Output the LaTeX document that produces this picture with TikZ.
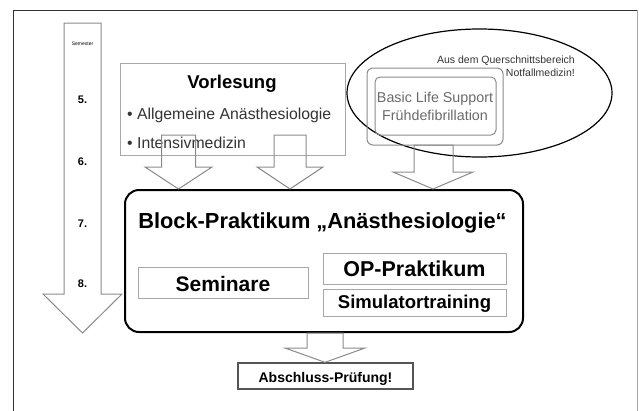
\documentclass[tikz,border=0pt]{standalone}
\usepackage{fontspec}
\setmainfont{Liberation Sans}
\usetikzlibrary{shapes.geometric}
\definecolor{lgray}{HTML}{A8A8A8}
\definecolor{mgray}{HTML}{8A8A8A}
\definecolor{dgray}{HTML}{555555}
\definecolor{tgray}{HTML}{6A6A6A}
\begin{document}
\begin{tikzpicture}[x=1pt,y=-1pt,
  rbox/.style={draw=#1, line width=1pt, inner sep=0pt, minimum width=0pt, minimum height=0pt},
  lbl/.style={anchor=base, inner sep=0pt},
  barrow/.style={draw=mgray, line width=1pt, line join=miter}]
\useasboundingbox (0,0) rectangle (639,410);
% frame
\draw[draw=black!80, line width=0.9pt] (13,412) -- (13,10) -- (637,10);
\draw[draw=black!35, line width=0.9pt] (637,10) -- (637,412);

% semester arrow
\draw[barrow] (64,23) -- (101,23) -- (101,294) -- (122,294) -- (82.5,333) -- (43,294) -- (64,294) -- cycle;
\node[lbl, font=\fontsize{5}{6}\selectfont] (sem) at (82.5,45) {Semester};
\node[lbl, font=\bfseries\fontsize{11}{13}\selectfont] (s5) at (82.5,103) {5.};
\node[lbl, font=\bfseries\fontsize{11}{13}\selectfont] (s6) at (82.5,165) {6.};
\node[lbl, font=\bfseries\fontsize{11}{13}\selectfont] (s7) at (82.5,227) {7.};
\node[lbl, font=\bfseries\fontsize{11}{13}\selectfont] (s8) at (82.5,287) {8.};

% Vorlesung
\node[rbox=lgray, minimum width=225pt, minimum height=92pt] (vbox) at (232.5,109) {};
\node[lbl, font=\bfseries\fontsize{18.5}{22}\selectfont] (vt) at (232,88) {Vorlesung};
\node[lbl, anchor=base west, font=\fontsize{15.8}{19}\selectfont, text=black!80] (v1) at (127,119) {\textbullet\ Allgemeine Anästhesiologie};
\node[lbl, anchor=base west, font=\fontsize{15.8}{19}\selectfont, text=black!80] (v2) at (127,148) {\textbullet\ Intensivmedizin};

% Notfallmedizin
\node[draw=black, line width=1.2pt, ellipse, inner sep=0pt, minimum width=265pt, minimum height=128pt] (ell) at (479.5,93) {};
\node[lbl, anchor=base east, font=\fontsize{10.5}{12}\selectfont, text=black!80] (q1) at (575,63) {Aus dem Querschnittsbereich};
\node[lbl, anchor=base east, font=\fontsize{10.5}{12}\selectfont, text=black!80] (q2) at (575,76) {Notfallmedizin!};
\node[rbox=mgray, rounded corners=6pt, minimum width=136pt, minimum height=77pt] (blso) at (435,106.5) {};
\node[rbox=mgray, rounded corners=5pt, minimum width=121pt, minimum height=58pt] (blsi) at (435.5,106) {};
\node[lbl, font=\fontsize{14.3}{17}\selectfont, text=tgray] (b1) at (435,102) {Basic Life Support};
\node[lbl, font=\fontsize{14.3}{17}\selectfont, text=tgray] (b2) at (435,120) {Frühdefibrillation};

% Block-Praktikum
\node[draw=black, line width=2pt, rounded corners=14pt, inner sep=0pt, minimum width=398pt, minimum height=142pt] (block) at (324,261) {};
\node[lbl, font=\bfseries\fontsize{21.8}{26}\selectfont] (bt) at (322.5,228) {Block-Praktikum „Anästhesiologie“};
\node[rbox=lgray, minimum width=170pt, minimum height=31pt] (sembox) at (223,282.5) {};
\node[lbl, font=\bfseries\fontsize{21}{25}\selectfont] (semt) at (223,291) {Seminare};
\node[rbox=lgray, minimum width=183pt, minimum height=31pt] (opbox) at (414.5,268.5) {};
\node[lbl, font=\bfseries\fontsize{21.5}{25}\selectfont] (opt) at (414.5,276) {OP-Praktikum};
\node[rbox=lgray, minimum width=183pt, minimum height=27pt] (simbox) at (414.5,302.5) {};
\node[lbl, font=\bfseries\fontsize{18.5}{22}\selectfont] (simt) at (414.5,308) {Simulatortraining};

% Abschluss
\node[rbox=dgray, line width=1.4pt, minimum width=175pt, minimum height=26pt] (abs) at (325.5,376) {};
\node[lbl, font=\bfseries\fontsize{14}{16}\selectfont] (abst) at (325.5,382) {Abschluss-Prüfung!};

% block arrows
\draw[barrow] (161.5,135) -- (195.5,135) -- (195.5,167) -- (212,167) -- (block.north -| 178.5,0) -- (145,167) -- (161.5,167) -- cycle;
\draw[barrow] (274,135) -- (306,135) -- (306,167) -- (323,167) -- (block.north -| 290,0) -- (257,167) -- (274,167) -- cycle;
\draw[barrow] (414,145) -- (453,145) -- (453,172) -- (473,172) -- (block.north -| 433,0) -- (393,172) -- (414,172) -- cycle;
\draw[barrow] (307,333) -- (343,333) -- (343,348) -- (365,348) -- (abs.north -| 325,0) -- (285,348) -- (307,348) -- cycle;
\end{tikzpicture}
\end{document}
